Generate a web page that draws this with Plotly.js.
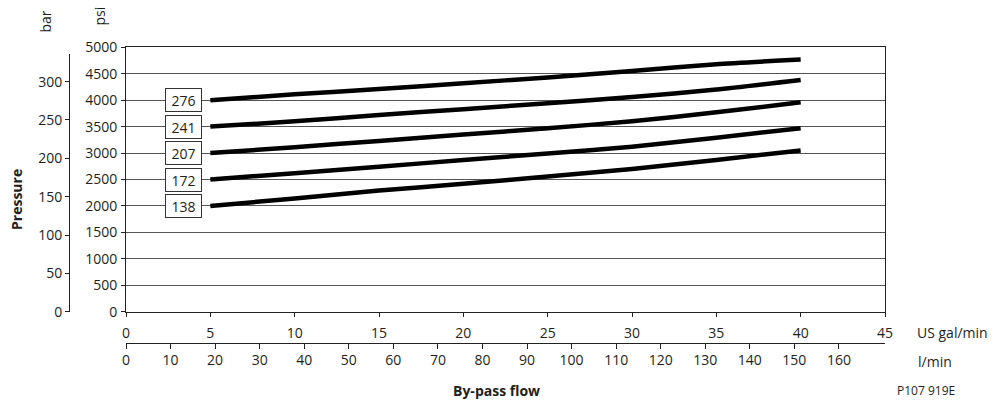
<!DOCTYPE html>
<html>
<head>
<meta charset="utf-8">
<script src="https://cdn.plot.ly/plotly-3.0.1.min.js"></script>
<style>html,body{margin:0;padding:0;background:#fff;}#chart{width:995px;height:402px;}</style>
</head>
<body>
<div id="chart"></div>
<script>
// By-pass flow in US gal/min
const flowGpm = [5, 10, 15, 20, 25, 30, 35, 40];
// Pressure (psi) for each relief valve setting (bar)
const settingsBar = ['276', '241', '207', '172', '138'];
const psi276 = [4000, 4110, 4210, 4320, 4430, 4550, 4680, 4770];
const psi241 = [3500, 3600, 3720, 3830, 3940, 4060, 4200, 4380];
const psi207 = [3000, 3110, 3230, 3350, 3470, 3600, 3770, 3960];
const psi172 = [2500, 2620, 2740, 2870, 2990, 3120, 3290, 3470];
const psi138 = [2000, 2140, 2290, 2420, 2555, 2700, 2870, 3050];
const seriesPsi = [psi276, psi241, psi207, psi172, psi138];
// Tick labels
const lminTicks = [0, 10, 20, 30, 40, 50, 60, 70, 80, 90, 100, 110, 120, 130, 140, 150, 160];
const barTicks = [0, 50, 100, 150, 200, 250, 300];

const GAL_TO_L = 3.78541;
const PSI_PER_BAR = 14.5038;
const FONT = 'Open Sans, Noto Sans, sans-serif';
const TXT = '#231f20';

// pixel helpers for layout placement (paper area: x 40..975, y 10..382)
const W = 995, H = 402, ML = 40, MR = 20, MT = 10, MB = 20;
const PW = W - ML - MR, PH = H - MT - MB;
const px = x => (x - ML) / PW;
const py = y => (H - MB - y) / PH;

const traces = seriesPsi.map((ys, i) => ({
  x: flowGpm, y: ys, type: 'scatter', mode: 'lines',
  line: {color: '#000', width: 4.5, shape: 'spline', smoothing: 0.6},
  name: settingsBar[i], hoverinfo: 'skip', showlegend: false,
  xaxis: 'x', yaxis: 'y'
}));
// carriers for the secondary scales (no marks)
traces.push({x: [], y: [], type: 'scatter', mode: 'lines', xaxis: 'x2', yaxis: 'y', showlegend: false, hoverinfo: 'skip'});
traces.push({x: [], y: [], type: 'scatter', mode: 'lines', xaxis: 'x', yaxis: 'y2', showlegend: false, hoverinfo: 'skip'});

const xDom = [px(126), px(885)];
const yDom = [py(311.7), py(47.3)];
const barTop = py(54);
const barMax = (311.7 - 54) / (311.7 - 47.3) * 5000 / PSI_PER_BAR;

const labelAnns = settingsBar.map((t, i) => ({
  x: 3.4, y: seriesPsi[i][0], xref: 'x', yref: 'y', text: t, showarrow: false,
  xanchor: 'center', yanchor: 'middle',
  bgcolor: '#fff', bordercolor: '#333', borderwidth: 1, borderpad: 0,
  width: 35, height: 22, font: {family: FONT, size: 14, color: TXT}
}));

const textAnn = (text, x, y, opts) => Object.assign({
  text, x: px(x), y: py(y), xref: 'paper', yref: 'paper', showarrow: false,
  xanchor: 'center', yanchor: 'middle',
  font: {family: FONT, size: 14, color: TXT}
}, opts || {});

const layout = {
  width: W, height: H,
  margin: {l: ML, r: MR, t: MT, b: MB, pad: 0},
  paper_bgcolor: '#fff', plot_bgcolor: 'rgba(0,0,0,0)',
  showlegend: false,
  font: {family: FONT, size: 14, color: TXT},
  xaxis: {
    domain: xDom, range: [0, 45], dtick: 5, tick0: 0,
    showgrid: false, zeroline: false, showline: true, linecolor: '#222', linewidth: 1,
    mirror: true, ticks: 'outside', ticklen: 4, tickcolor: '#222', ticklabelstandoff: 4,
    tickfont: {family: FONT, size: 14, color: TXT}, anchor: 'y'
  },
  xaxis2: {
    overlaying: 'x', anchor: 'free', position: py(343), side: 'bottom',
    range: [0, 45 * GAL_TO_L], tickvals: lminTicks, ticktext: lminTicks.map(String),
    showgrid: false, zeroline: false, showline: true, linecolor: '#222', linewidth: 1,
    ticks: 'outside', ticklen: 5, tickcolor: '#222', ticklabelstandoff: -1,
    tickfont: {family: FONT, size: 14, color: TXT}
  },
  yaxis: {
    domain: yDom, range: [0, 5000], dtick: 500, tick0: 0,
    showgrid: true, gridcolor: '#555', gridwidth: 1, zeroline: false,
    showline: true, linecolor: '#222', linewidth: 1, mirror: true,
    ticks: 'outside', ticklen: 4, tickcolor: '#222', ticklabelstandoff: 1,
    tickfont: {family: FONT, size: 14, color: TXT}, anchor: 'x'
  },
  yaxis2: {
    domain: [yDom[0], barTop], anchor: 'free', position: px(69), side: 'left',
    range: [0, barMax], tickvals: barTicks, ticktext: barTicks.map(String),
    showgrid: false, zeroline: false, showline: true, linecolor: '#222', linewidth: 1,
    ticks: 'outside', ticklen: 4, tickcolor: '#222',
    tickfont: {family: FONT, size: 14, color: TXT}
  },
  annotations: labelAnns.concat([
    textAnn('<b>Pressure</b>', 16, 200, {textangle: -90}),
    textAnn('bar', 45, 21.5, {textangle: -90}),
    textAnn('psi', 99, 16.5, {textangle: -90}),
    textAnn('US gal/min', 915, 332, {xanchor: 'left'}),
    textAnn('l/min', 916, 361, {xanchor: 'left'}),
    textAnn('<b>By-pass flow</b>', 496, 390),
    textAnn('P107 919E', 895, 390, {xanchor: 'left', font: {family: FONT, size: 12, color: TXT}})
  ])
};

Plotly.newPlot('chart', traces, layout, {staticPlot: true, displayModeBar: false});
</script>
</body>
</html>
